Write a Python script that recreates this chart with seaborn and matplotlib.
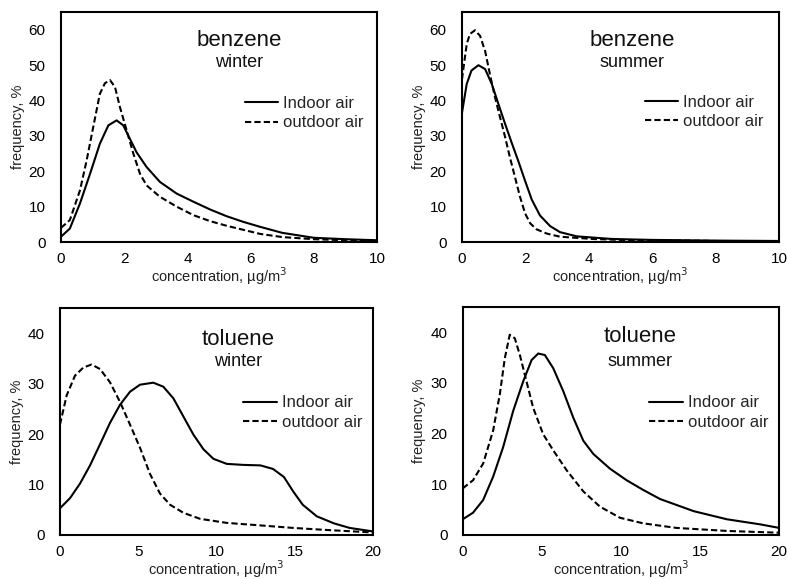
import numpy as np
import pandas as pd
import matplotlib
matplotlib.use("Agg")
import matplotlib.pyplot as plt
import seaborn as sns

sns.set_theme(style="white")
plt.rcParams["font.family"] = ["Liberation Sans", "DejaVu Sans"]

# Benzene, winter
bw_x_in = [0, 0.28, 0.6, 0.92, 1.23, 1.5, 1.76, 1.97, 2.18, 2.39, 2.71, 3.13, 3.66, 4.19, 4.72, 5.24, 5.77, 6.3, 7.0, 8.0, 9.0, 10.0]
bw_in = [1.5, 3.8, 10.9, 19.3, 27.8, 33.0, 34.4, 33.0, 29.2, 25.4, 21.2, 17.0, 13.7, 11.4, 9.2, 7.3, 5.7, 4.3, 2.6, 1.2, 0.8, 0.5]
bw_x_out = [0, 0.28, 0.6, 0.81, 1.02, 1.23, 1.39, 1.55, 1.71, 1.87, 2.08, 2.29, 2.5, 2.71, 3.13, 3.66, 4.19, 4.72, 5.24, 6.3, 7.0, 8.0, 9.0, 10.0]
bw_out = [4.0, 6.2, 14.6, 23.0, 32.5, 41.9, 44.9, 45.8, 43.8, 38.0, 31.5, 25.0, 19.3, 16.0, 12.8, 10.0, 7.6, 5.9, 4.6, 2.3, 1.4, 0.8, 0.5, 0.3]

# Benzene, summer
bs_x_in = [0, 0.15, 0.3, 0.52, 0.73, 0.94, 1.15, 1.36, 1.57, 1.78, 1.99, 2.2, 2.46, 2.78, 3.09, 3.62, 4.67, 5.0, 6.0, 8.0, 10.0]
bs_in = [36.5, 44.7, 48.5, 50.0, 48.9, 44.7, 39.0, 33.4, 28.0, 22.8, 17.3, 12.0, 7.5, 4.5, 2.8, 1.6, 0.9, 0.8, 0.6, 0.4, 0.3]
bs_x_out = [0, 0.15, 0.25, 0.41, 0.57, 0.73, 0.88, 1.04, 1.2, 1.36, 1.51, 1.67, 1.83, 1.99, 2.15, 2.35, 2.67, 3.09, 4.14, 5.0, 6.0, 8.0, 10.0]
bs_out = [46.0, 56.0, 58.8, 59.9, 58.3, 54.0, 47.5, 41.0, 35.3, 29.7, 24.0, 18.4, 12.8, 8.1, 5.3, 3.6, 2.4, 1.5, 0.85, 0.6, 0.5, 0.3, 0.2]

# Toluene, winter
tw_x_in = [0, 0.64, 1.28, 1.92, 2.56, 3.19, 3.83, 4.47, 5.11, 5.96, 6.6, 7.24, 7.88, 8.52, 9.16, 9.8, 10.65, 11.7, 12.8, 13.6, 14.3, 14.9, 15.5, 16.4, 17.5, 18.5, 20.0]
tw_in = [5.3, 7.3, 10.2, 13.8, 18.0, 22.2, 25.8, 28.4, 29.8, 30.2, 29.4, 27.1, 23.5, 19.9, 17.0, 15.1, 14.1, 13.9, 13.8, 13.1, 11.5, 8.6, 6.0, 3.7, 2.3, 1.4, 0.7]
tw_x_out = [0, 0.43, 0.96, 1.49, 2.02, 2.56, 3.19, 3.83, 4.47, 5.11, 5.75, 6.39, 7.03, 7.88, 8.95, 10.65, 12.8, 14.9, 17.0, 20.0]
tw_out = [21.9, 27.7, 31.6, 33.2, 33.8, 32.9, 30.3, 26.4, 21.9, 17.3, 12.1, 8.2, 6.0, 4.4, 3.2, 2.4, 1.9, 1.4, 1.0, 0.5]

# Toluene, summer
ts_x_in = [0, 0.65, 1.29, 1.92, 2.55, 3.19, 3.82, 4.35, 4.77, 5.19, 5.72, 6.35, 6.98, 7.62, 8.25, 9.3, 10.36, 11.4, 12.47, 14.6, 16.7, 18.8, 20.0]
ts_in = [3.1, 4.4, 6.9, 11.5, 17.3, 24.5, 30.3, 34.5, 35.8, 35.5, 32.9, 28.4, 23.2, 18.6, 16.0, 13.1, 10.8, 8.9, 7.1, 4.7, 3.1, 2.1, 1.4]
ts_x_out = [0, 0.65, 1.29, 1.92, 2.34, 2.66, 2.97, 3.29, 3.61, 4.03, 4.45, 5.08, 5.72, 6.56, 7.62, 8.67, 9.94, 11.4, 13.5, 16.7, 20.0]
ts_out = [9.2, 10.8, 14.1, 20.6, 27.7, 34.9, 39.5, 38.8, 35.5, 30.3, 25.1, 19.9, 16.7, 12.8, 8.6, 5.6, 3.4, 2.3, 1.4, 0.8, 0.45]

labels = ["Indoor air", "outdoor air"]

panels = [
    dict(x_in=bw_x_in, y_in=bw_in, x_out=bw_x_out, y_out=bw_out, comp="benzene", season="winter",
         pos=[0.0775, 0.582, 0.4015, 0.397], xmax=10, xticks=[0, 2, 4, 6, 8, 10], ymax=65, yticks=[0, 10, 20, 30, 40, 50, 60],
         tpos=(0.563, 0.878, 0.783), leg=(0.582, 0.56)),
    dict(x_in=bs_x_in, y_in=bs_in, x_out=bs_x_out, y_out=bs_out, comp="benzene", season="summer",
         pos=[0.587, 0.582, 0.403, 0.397], xmax=10, xticks=[0, 2, 4, 6, 8, 10], ymax=65, yticks=[0, 10, 20, 30, 40, 50, 60],
         tpos=(0.536, 0.875, 0.78), leg=(0.577, 0.565)),
    dict(x_in=tw_x_in, y_in=tw_in, x_out=tw_x_out, y_out=tw_out, comp="toluene", season="winter",
         pos=[0.0762, 0.076, 0.398, 0.392], xmax=20, xticks=[0, 5, 10, 15, 20], ymax=45, yticks=[0, 10, 20, 30, 40],
         tpos=(0.57, 0.86, 0.766), leg=(0.585, 0.54)),
    dict(x_in=ts_x_in, y_in=ts_in, x_out=ts_x_out, y_out=ts_out, comp="toluene", season="summer",
         pos=[0.588, 0.076, 0.402, 0.394], xmax=20, xticks=[0, 5, 10, 15, 20], ymax=45, yticks=[0, 10, 20, 30, 40],
         tpos=(0.56, 0.87, 0.76), leg=(0.59, 0.537)),
]

fig = plt.figure(figsize=(7.87, 5.79), dpi=100)

for p in panels:
    ax = fig.add_axes(p["pos"])
    df = pd.concat([
        pd.DataFrame({"conc": p["x_in"], "freq": p["y_in"], "air": labels[0]}),
        pd.DataFrame({"conc": p["x_out"], "freq": p["y_out"], "air": labels[1]}),
    ])
    sns.lineplot(data=df, x="conc", y="freq", style="air", style_order=labels,
                 dashes={labels[0]: "", labels[1]: (3.0, 1.5)}, color="black",
                 linewidth=1.5, ax=ax, sort=False)
    ax.set_xlim(0, p["xmax"])
    ax.set_ylim(0, p["ymax"])
    ax.set_xticks(p["xticks"])
    ax.set_yticks(p["yticks"])
    ax.tick_params(direction="in", length=3, width=1, labelsize=11, colors="black")
    ax.tick_params(axis="x", pad=7)
    ax.tick_params(axis="y", pad=11)
    for s in ax.spines.values():
        s.set_linewidth(1.5)
        s.set_color("black")
    ax.set_xlabel("concentration, µg/m$^3$", fontsize=10.5, labelpad=0, color="#222222")
    ax.set_ylabel("frequency, %", fontsize=10.5, labelpad=3, color="#222222")
    tx, ty1, ty2 = p["tpos"]
    ax.text(tx, ty1, p["comp"], transform=ax.transAxes, ha="center", va="center", fontsize=16, color="#111111")
    ax.text(tx, ty2, p["season"], transform=ax.transAxes, ha="center", va="center", fontsize=13, color="#111111")
    ax.legend(loc="center left", bbox_to_anchor=p["leg"], frameon=False, fontsize=12,
              handlelength=2.0, handletextpad=0.3, labelspacing=0.25, borderpad=0, borderaxespad=0, title=None)

fig.savefig("out.png", dpi=100)
